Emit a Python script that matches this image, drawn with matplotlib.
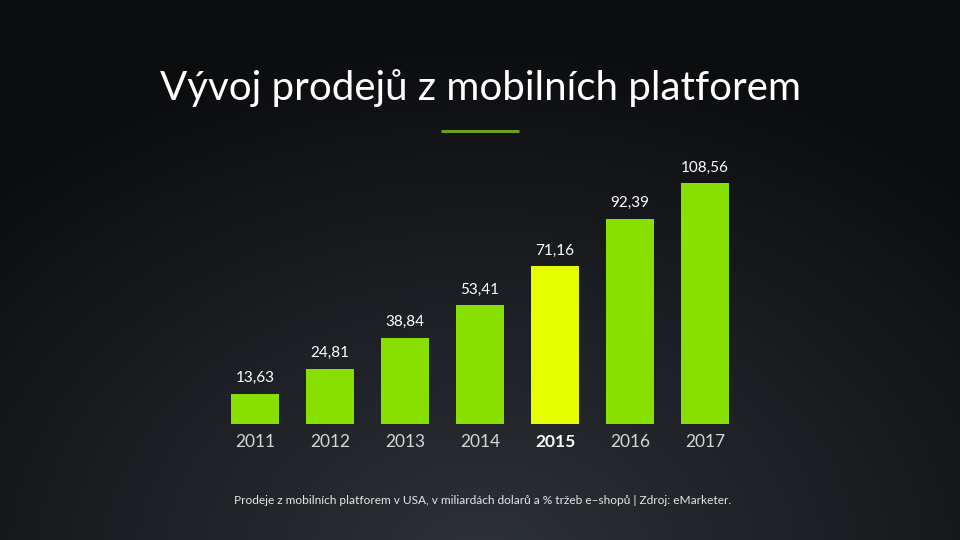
import numpy as np
import matplotlib.pyplot as plt

# data
years = ['2011', '2012', '2013', '2014', '2015', '2016', '2017']
values = [13.63, 24.81, 38.84, 53.41, 71.16, 92.39, 108.56]
labels = ['13,63', '24,81', '38,84', '53,41', '71,16', '92,39', '108,56']
highlight = '2015'

green = '#88e000'
yellow = '#e5ff00'

plt.rcParams['font.family'] = ['Lato', 'DejaVu Sans']

fig = plt.figure(figsize=(9.6, 5.4), dpi=100)

# pozadi - radialni prechod
bg = fig.add_axes([0, 0, 1, 1])
yy, xx = np.mgrid[0:540, 0:960]
r = np.sqrt(((xx - 480) / 700.0) ** 2 + ((yy - 560) / 520.0) ** 2)
r = np.clip(r, 0, 1)
c0 = np.array([0x2d, 0x32, 0x38]) / 255
c1 = np.array([0x0c, 0x0d, 0x0f]) / 255
img = c0[None, None, :] * (1 - r[..., None]) + c1[None, None, :] * r[..., None]
bg.imshow(img, aspect='auto', extent=[0, 960, 540, 0])
bg.set_xlim(0, 960)
bg.set_ylim(540, 0)
bg.axis('off')

# nadpis a podtrzeni
bg.text(480, 88, 'Vývoj prodejů z mobilních platforem', color='white',
        fontsize=29, ha='center', va='center')
bg.plot([441, 519], [131, 131], color='#6e9e1e', lw=2.2, solid_capstyle='butt')
bg.text(483, 500, 'Prodeje z mobilních platforem v USA, v miliardách dolarů a % tržeb e–shopů | Zdroj: eMarketer.',
        color='#e6e6e6', fontsize=8.6, ha='center', va='center')

# graf
ax = fig.add_axes([217.5 / 960, 116 / 540, 525 / 960, 274 / 540])
ax.patch.set_alpha(0)
x = np.arange(len(years))
colors = [yellow if y == highlight else green for y in years]
ax.bar(x, values, width=0.65, color=colors, zorder=3)
ax.bar(x, [0.9] * len(x), bottom=-0.9, width=0.65, color='#1a1d10', zorder=3)
for xi, v, lab in zip(x, values, labels):
    ax.text(xi, v + 7, lab, color='white', fontsize=11, ha='center', va='center')
for xi, y in zip(x, years):
    bold = y == highlight
    ax.text(xi, -8, y, color='white' if bold else '#d4d6d8', fontsize=12.5,
            fontweight='bold' if bold else 'normal', ha='center', va='center')
ax.set_xlim(-0.5, 6.5)
ax.set_ylim(0, 274 / 2.22)
ax.axis('off')

fig.savefig('out.png', dpi=100)
